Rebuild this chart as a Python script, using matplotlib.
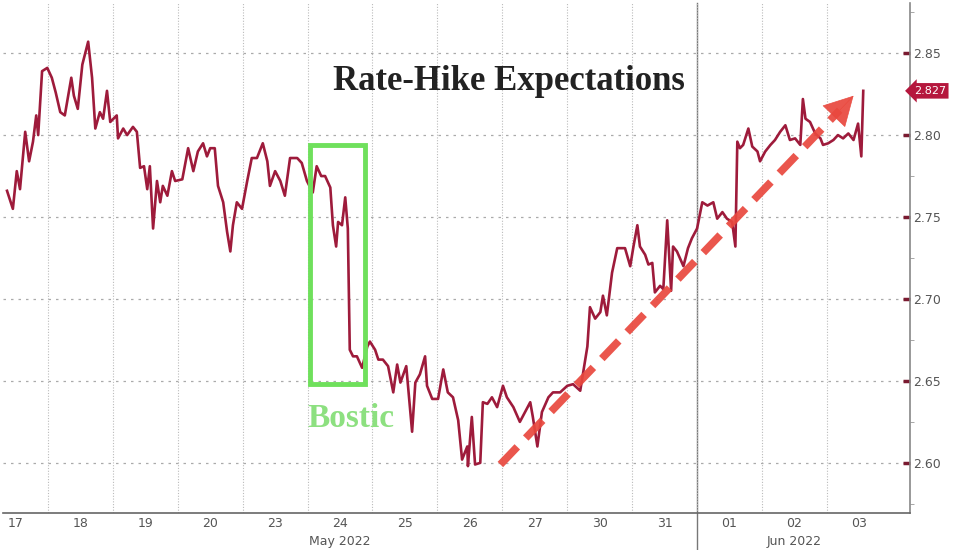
import matplotlib.pyplot as plt
from matplotlib.patches import Rectangle
from matplotlib.ticker import MultipleLocator, FixedLocator
from matplotlib.transforms import blended_transform_factory

# position in trading days since the open of May 17 (1 unit = 1 session)
t = [0.37, 0.46, 0.52, 0.57, 0.65, 0.71, 0.77, 0.82, 0.85, 0.91, 0.99, 1.06, 1.12, 1.19, 1.26,
     1.36, 1.40, 1.46, 1.53, 1.62, 1.68, 1.73, 1.80, 1.85, 1.91, 1.96, 2.06, 2.08, 2.16, 2.22,
     2.31, 2.37, 2.42, 2.48, 2.53, 2.57, 2.62, 2.68, 2.73, 2.77, 2.84, 2.91, 2.96, 3.07, 3.16,
     3.24, 3.31, 3.39, 3.45, 3.50, 3.57, 3.62, 3.70, 3.76, 3.81, 3.85, 3.91, 3.99, 4.07, 4.14,
     4.22, 4.31, 4.38, 4.42, 4.50, 4.58, 4.65, 4.73, 4.84, 4.91, 4.99, 5.08, 5.14, 5.21, 5.27,
     5.35, 5.39, 5.44, 5.47, 5.53, 5.58, 5.62, 5.65, 5.70, 5.76, 5.84, 5.92, 5.96, 6.04, 6.09,
     6.16, 6.24, 6.32, 6.38, 6.43, 6.52, 6.61, 6.66, 6.73, 6.81, 6.84, 6.92, 7.01, 7.09, 7.16,
     7.24, 7.32, 7.38, 7.46, 7.47, 7.53, 7.58, 7.66, 7.70, 7.77, 7.84, 7.92, 8.01, 8.07, 8.17,
     8.27, 8.35, 8.43, 8.47, 8.54, 8.61, 8.71, 8.78, 8.89, 9.00, 9.09, 9.20, 9.31, 9.35, 9.43,
     9.51, 9.55, 9.61, 9.69, 9.77, 9.89, 9.97, 10.02, 10.08, 10.12, 10.20, 10.25, 10.31, 10.35,
     10.43, 10.48, 10.54, 10.60, 10.63, 10.69, 10.79, 10.86, 10.92, 11.00, 11.08, 11.16, 11.25,
     11.31, 11.39, 11.46, 11.54, 11.59, 11.62, 11.66, 11.71, 11.79, 11.85, 11.93, 11.97, 12.05,
     12.13, 12.20, 12.28, 12.36, 12.43, 12.51, 12.59, 12.63, 12.67, 12.74, 12.82, 12.90, 12.94,
     13.02, 13.10, 13.17, 13.25, 13.33, 13.41, 13.48, 13.53, 13.56]

rate = [2.766, 2.755, 2.778, 2.767, 2.802, 2.784, 2.796, 2.812, 2.800, 2.839, 2.841, 2.835, 2.826,
        2.814, 2.812, 2.835, 2.824, 2.816, 2.843, 2.857, 2.835, 2.804, 2.814, 2.810, 2.827, 2.808,
        2.812, 2.798, 2.804, 2.800, 2.805, 2.802, 2.780, 2.781, 2.767, 2.781, 2.743, 2.772, 2.759,
        2.769, 2.763, 2.778, 2.772, 2.773, 2.792, 2.778, 2.790, 2.795, 2.787, 2.792, 2.792, 2.769,
        2.759, 2.741, 2.729, 2.745, 2.759, 2.755, 2.772, 2.786, 2.786, 2.795, 2.784, 2.769, 2.778,
        2.772, 2.763, 2.786, 2.786, 2.783, 2.772, 2.765, 2.781, 2.775, 2.775, 2.768, 2.745, 2.732,
        2.747, 2.745, 2.762, 2.743, 2.669, 2.665, 2.665, 2.658, 2.671, 2.674, 2.669, 2.663, 2.663,
        2.659, 2.643, 2.660, 2.649, 2.659, 2.619, 2.649, 2.654, 2.665, 2.647, 2.639, 2.639, 2.657,
        2.643, 2.640, 2.626, 2.602, 2.610, 2.598, 2.628, 2.599, 2.600, 2.637, 2.636, 2.640, 2.634,
        2.647, 2.640, 2.634, 2.625, 2.631, 2.637, 2.628, 2.610, 2.631, 2.640, 2.643, 2.643, 2.647,
        2.648, 2.644, 2.671, 2.695, 2.688, 2.692, 2.702, 2.690, 2.716, 2.731, 2.731, 2.720, 2.732,
        2.745, 2.732, 2.727, 2.721, 2.722, 2.704, 2.708, 2.706, 2.748, 2.705, 2.732, 2.729, 2.720,
        2.731, 2.737, 2.743, 2.759, 2.757, 2.759, 2.749, 2.753, 2.749, 2.747, 2.732, 2.796, 2.792,
        2.794, 2.804, 2.793, 2.790, 2.784, 2.790, 2.794, 2.797, 2.802, 2.806, 2.797, 2.798, 2.794,
        2.822, 2.810, 2.808, 2.801, 2.798, 2.794, 2.795, 2.797, 2.800, 2.798, 2.801, 2.797, 2.807,
        2.787, 2.827]

days = ['17', '18', '19', '20', '23', '24', '25', '26', '27', '30', '31', '01', '02', '03']
months = ['May 2022', 'Jun 2022']
month_mid = [5.5, 12.5]
month_break = 11
last_value = 2.827

# Bostic window and trend arrow
bostic_t = (5.04, 5.89)
bostic_y = (2.648, 2.794)
trend_start = (7.97, 2.599)
trend_end = (13.41, 2.824)

line_col = '#9e1b3b'
green = '#6fe05c'
arrow_col = '#e9483e'

fig = plt.figure(figsize=(9.54, 5.5), dpi=100)
ax = fig.add_axes([3 / 954, 37 / 550, 907 / 954, 510 / 550])

ax.plot(t, rate, color=line_col, lw=1.9, zorder=3)

ax.set_xlim(0.308, 14.28)
ax.set_ylim(2.5694, 2.8806)

# y axis on the right
ax.yaxis.tick_right()
ax.yaxis.set_major_locator(MultipleLocator(0.05))
ax.yaxis.set_minor_locator(MultipleLocator(0.025))
ax.yaxis.set_major_formatter(lambda v, p: f'{v:.2f}')
ax.tick_params(axis='y', which='major', direction='in', length=5, width=2.5,
               color='#7a1a30', labelsize=9, labelcolor='#555555', pad=2)
ax.tick_params(axis='y', which='minor', direction='out', length=3, color='#999999')

# x axis: grid at session boundaries, labels in the middle
ax.xaxis.set_major_locator(FixedLocator(range(1, len(days))))
ax.xaxis.set_major_formatter(lambda v, p: '')
ax.xaxis.set_minor_locator(FixedLocator([i + 0.5 for i in range(len(days))]))
ax.set_xticklabels(days, minor=True)
ax.tick_params(axis='x', which='both', length=0, labelsize=9, labelcolor='#555555', pad=3)

ax.grid(axis='y', which='major', color='#aaaaaa', ls=(0, (2, 4)), lw=0.9)
ax.grid(axis='x', which='major', color='#bbbbbb', ls=(0, (1, 1.5)), lw=0.8)

for s in ['left', 'top']:
    ax.spines[s].set_visible(False)
ax.spines['bottom'].set_color('#666666')
ax.spines['bottom'].set_linewidth(1.2)
ax.spines['right'].set_color('#888888')
ax.spines['right'].set_linewidth(1.2)

# month names and month divider
tr = blended_transform_factory(ax.transData, ax.transAxes)
for m, x in zip(months, month_mid):
    ax.text(x, -0.056, m, transform=tr, ha='center', va='center', fontsize=9, color='#555555')
ax.plot([month_break, month_break], [-0.1, 1.0], transform=tr, color='#777777', lw=1.0,
        clip_on=False, zorder=1)

# annotations
ax.text(0.558, 0.846, 'Rate-Hike Expectations', transform=ax.transAxes, ha='center', va='center',
        fontsize=25, fontweight='bold', family='Liberation Serif', color='#222222')

ax.add_patch(Rectangle((bostic_t[0], bostic_y[0]), bostic_t[1] - bostic_t[0],
                       bostic_y[1] - bostic_y[0], fill=False, ec=green, lw=3.5, zorder=4))
ax.text(bostic_t[0] - 0.04, 2.627, 'Bostic', ha='left', va='center', fontsize=24,
        fontweight='bold', family='Liberation Serif', color='#8de080', zorder=4)

# dashed shaft, then a solid head
p0 = ax.transData.transform(trend_start)
p1 = ax.transData.transform(trend_end)
d = (p1 - p0) / ((p1 - p0) ** 2).sum() ** 0.5
head_base = ax.transData.inverted().transform(p1 - d * 20)
ax.plot([trend_start[0], head_base[0]], [trend_start[1], head_base[1]], color=arrow_col,
        lw=5.5, ls=(0, (3.2, 1.6)), alpha=0.92, solid_capstyle='butt', zorder=5)
ax.annotate('', xy=trend_end, xytext=tuple(head_base),
            arrowprops=dict(arrowstyle='-|>,head_length=1.1,head_width=0.6', mutation_scale=18,
                            color=arrow_col, lw=0.5, shrinkA=0, shrinkB=0, alpha=0.92), zorder=5)

# last value tag
ax.text(1.004, last_value, f'{last_value:.3f}',
        transform=blended_transform_factory(ax.transAxes, ax.transData),
        ha='left', va='center', fontsize=8, color='white', clip_on=False,
        bbox=dict(boxstyle='larrow,pad=0.25', fc='#b5173d', ec='none'))

fig.savefig('out.png', dpi=100)
